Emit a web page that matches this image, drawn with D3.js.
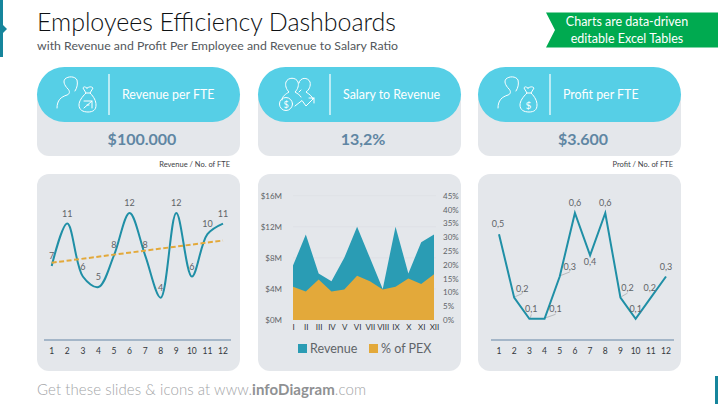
<!DOCTYPE html>
<html>
<head>
<meta charset="utf-8">
<script src="https://cdn.jsdelivr.net/npm/d3@7"></script>
<style>
	html, body { margin: 0; padding: 0; background: #fff; }
	svg { display: block; }
	text { font-family: Lato, "Open Sans", sans-serif; }
</style>
</head>
<body>
<div id="app"></div>
<script>
// chart values
const months = [1, 2, 3, 4, 5, 6, 7, 8, 9, 10, 11, 12];
const revenuePerFte = [7, 11, 6, 5, 8, 12, 8, 4, 12, 6, 10, 11];
const trendEnds = [7.3, 9.4];

const romanMonths = ['I', 'II', 'III', 'IV', 'V', 'VI', 'VII', 'VIII', 'IX', 'X', 'XI', 'XII'];
const revenueM = [7, 11, 6, 5, 8, 12, 8, 4, 12, 6, 10, 11];
const pexPercent = [12, 10.3, 14.7, 10.3, 11, 16, 14, 11, 12, 15, 13, 16.6];
const revenueTicks = [0, 4, 8, 12, 16];
const pexTicks = [0, 5, 10, 15, 20, 25, 30, 35, 40, 45];

const profitPerFte = [0.5, 0.2, 0.1, 0.1, 0.3, 0.6, 0.4, 0.6, 0.2, 0.1, 0.2, 0.3];
// label nudges for the third chart, [dx, dy] from the point
const profitLabelShift = [[-1, -10], [8, -9], [2, -10], [11, -10], [10, -10], [0, -10], [0, 7], [0, -10], [7, -10], [0, -10], [-1, -10], [0, -10]];

const cards = ['Revenue per FTE', 'Salary to Revenue', 'Profit per FTE'];
const cardValues = ['$100.000', '13,2%', '$3.600'];

const WIDTH = 718,
	HEIGHT = 404;

const TEAL = '#1f8fa6',
	AREA_TEAL = '#2a9cb4',
	ORANGE = '#e3a93a',
	CYAN = '#56cfe6',
	PANEL = '#e4e7eb',
	AXIS_BLUE = '#8fa6bd',
	GREY_TEXT = '#5f6468';

const svg = d3.select('#app').append('svg')
	.attr('width', WIDTH)
	.attr('height', HEIGHT);

// slide furniture
svg.append('path').attr('d', 'M0,0H3V25L7,29L3,33V57H0Z').attr('fill', '#16859c');
svg.append('rect').attr('x', 715).attr('y', 376).attr('width', 3).attr('height', 28).attr('fill', '#16859c');

svg.append('text')
	.attr('x', 37).attr('y', 31)
	.attr('font-size', 25).attr('font-weight', 300).attr('fill', '#0e1113')
	.attr('textLength', 359).attr('lengthAdjust', 'spacing')
	.text('Employees Efficiency Dashboards');
svg.append('text')
	.attr('x', 37).attr('y', 50)
	.attr('font-size', 12.3).attr('fill', '#53585c')
	.attr('textLength', 361).attr('lengthAdjust', 'spacing')
	.text('with Revenue and Profit Per Employee and Revenue to Salary Ratio');

// green ribbon
svg.append('path').attr('d', 'M546,12.5H718V47.5H546L555,30Z').attr('fill', '#00aa50');
svg.selectAll('.ribbon')
	.data(['Charts are data-driven', 'editable Excel Tables'])
	.enter().append('text')
		.attr('x', 627).attr('y', (d, i) => 26 + i * 16.5)
		.attr('text-anchor', 'middle')
		.attr('font-size', 12.5).attr('fill', '#fff')
		.text(d => d);

// kpi cards
const cardX = [37, 258, 478];
const iconStroke = g => g.attr('fill', 'none').attr('stroke', '#fff').attr('stroke-width', 1).attr('stroke-linecap', 'round').attr('stroke-linejoin', 'round');

cards.forEach((name, i) => {
	const x = cardX[i];
	const g = svg.append('g').attr('transform', `translate(${x},0)`);
	g.append('rect').attr('y', 85).attr('width', 203).attr('height', 71).attr('rx', 12).attr('fill', PANEL);
	g.append('rect').attr('y', 67).attr('width', 203).attr('height', 55).attr('rx', 27.5).attr('fill', CYAN);
	g.append('line').attr('x1', 72).attr('x2', 72).attr('y1', 74).attr('y2', 115).attr('stroke', '#fff').attr('stroke-width', 1.2);
	g.append('text').attr('x', 85).attr('y', 99)
		.attr('font-size', 12.4).attr('fill', '#fff').text(name);
	g.append('text').attr('x', 105).attr('y', 145).attr('text-anchor', 'middle')
		.attr('font-size', 16).attr('font-weight', 700).attr('fill', '#5f86a3').text(cardValues[i]);

	const ic = g.append('g').call(iconStroke);
	if (i === 1) {
		// two people, coin and rising arrow
		ic.append('path').attr('d', 'M24,100C24,96 28,94 31,92C28,89 27,85 28,82C30,77 38,77 40,82C41,85 40,89 37,92C40,94 42,95 43,97');
		ic.append('path').attr('d', 'M41,83C42,77 50,77 52,82C53,86 51,90 48,92C51,94 54,96 55,99M41,92L43,90');
		ic.append('circle').attr('cx', 28).attr('cy', 104).attr('r', 6.5);
		ic.append('path').attr('d', 'M37,106L44,100.5L48,106L56,98M51,98H56V103');
		g.append('text').attr('x', 28).attr('y', 107.5).attr('text-anchor', 'middle').attr('font-size', 9).attr('fill', '#fff').text('$');
	} else {
		// person with money bag
		ic.append('path').attr('d', 'M20,108C20,100 24,97 30,95C33,94 33,91 31,89C27,85 26,81 28,79C31,76 38,76 40,80C41,84 40,88 38,91');
		ic.append('path').attr('transform', 'translate(5,1)').attr('d', 'M45,87C43,86 42,85 41,87L44,92C40,96 37,100 37,104C37,109 41,111 46,111C51,111 54,109 54,104C54,100 52,96 48,92L51,87C49,85 47,86 45,87ZM44,92H48');
		if (i === 0) {
			ic.append('path').attr('transform', 'translate(5,1)').attr('d', 'M42,100H50V107M42,107L50,100M45,104H47');
		} else {
			g.append('text').attr('x', 50.5).attr('y', 108.5).attr('text-anchor', 'middle').attr('font-size', 10).attr('fill', '#fff').text('$');
		}
	}
});

// small captions between the rows
svg.append('text').attr('x', 230).attr('y', 167).attr('text-anchor', 'end')
	.attr('font-size', 7.5).attr('fill', '#3d4246').text('Revenue / No. of FTE');
svg.append('text').attr('x', 673).attr('y', 167).attr('text-anchor', 'end')
	.attr('font-size', 7.5).attr('fill', '#3d4246').text('Profit / No. of FTE');

// chart panels
cardX.forEach(x => {
	svg.append('rect').attr('x', x).attr('y', 174).attr('width', 203).attr('height', 197).attr('rx', 12).attr('fill', PANEL);
});

function monthAxis (x, lineFrom, lineTo) {
	const g = svg.append('g');
	g.append('line')
		.attr('x1', lineFrom).attr('x2', lineTo).attr('y1', 340).attr('y2', 340)
		.attr('stroke', AXIS_BLUE).attr('stroke-width', 1.6);
	g.selectAll('text')
		.data(months)
		.enter().append('text')
			.attr('x', d => x(d)).attr('y', 354)
			.attr('text-anchor', 'middle')
			.attr('font-size', 8.5).attr('fill', '#33383c')
			.text(d => d);
}

// chart 1: revenue per fte
{
	const x = d3.scalePoint().domain(months).range([51.7, 223]);
	const y = d3.scaleLinear().domain([0, 12]).range([340, 213]);
	monthAxis(x, 44, 231);

	svg.append('path')
		.datum(revenuePerFte)
		.attr('d', d3.line().x((d, i) => x(months[i])).y(d => y(d)).curve(d3.curveCatmullRom.alpha(0.5)))
		.attr('fill', 'none').attr('stroke', TEAL).attr('stroke-width', 2);

	svg.append('path')
		.datum(trendEnds)
		.attr('d', d3.line().x((d, i) => x(i ? 12 : 1)).y(d => y(d)))
		.attr('fill', 'none').attr('stroke', ORANGE).attr('stroke-width', 2).attr('stroke-dasharray', '5 2.5');

	svg.selectAll('.lab1')
		.data(revenuePerFte)
		.enter().append('text')
			.attr('x', (d, i) => x(months[i]))
			.attr('y', (d, i) => y(d) - 7)
			.attr('text-anchor', 'middle')
			.attr('font-size', 9).attr('fill', GREY_TEXT)
			.text(d => d);
}

// chart 2: revenue and % of pex
{
	const x = d3.scalePoint().domain(romanMonths).range([293, 434]);
	const yL = d3.scaleLinear().domain([0, 16]).range([320, 195.7]);
	const yR = d3.scaleLinear().domain([0, 45]).range([320, 195.7]);

	const grid = svg.append('g');
	grid.selectAll('line')
		.data(revenueTicks.slice(1))
		.enter().append('line')
			.attr('x1', 293).attr('x2', 436)
			.attr('y1', d => yL(d)).attr('y2', d => yL(d))
			.attr('stroke', '#dde0e4').attr('stroke-width', 0.8);

	const area = (vals, scale) => d3.area()
		.x((d, i) => x(romanMonths[i]))
		.y0(scale(0))
		.y1(d => scale(d))(vals);

	svg.append('path').attr('d', area(revenueM, yL)).attr('fill', AREA_TEAL);
	svg.append('path').attr('d', area(pexPercent, yR)).attr('fill', ORANGE);

	const left = svg.append('g')
		.attr('transform', 'translate(285,0)')
		.call(d3.axisLeft(yL).tickValues(revenueTicks).tickSize(0).tickFormat(d => `$${d}M`));
	const right = svg.append('g')
		.attr('transform', 'translate(441,0)')
		.call(d3.axisRight(yR).tickValues(pexTicks).tickSize(0).tickPadding(2).tickFormat(d => `${d}%`));
	const bottom = svg.append('g')
		.attr('transform', 'translate(0,320)')
		.call(d3.axisBottom(x).tickSize(0).tickPadding(4));
	[left, right, bottom].forEach(a => {
		a.select('.domain').remove();
		a.selectAll('text').attr('font-family', 'Lato').attr('font-size', 8).attr('fill', GREY_TEXT);
	});
	bottom.selectAll('text').attr('fill', '#33383c').attr('font-size', 8);

	// legend
	const legend = svg.append('g');
	legend.append('rect').attr('x', 298).attr('y', 344).attr('width', 9).attr('height', 9).attr('fill', AREA_TEAL);
	legend.append('text').attr('x', 310).attr('y', 353).attr('font-size', 12.5).attr('fill', GREY_TEXT).text('Revenue');
	legend.append('rect').attr('x', 369).attr('y', 344).attr('width', 9).attr('height', 9).attr('fill', ORANGE);
	legend.append('text').attr('x', 381).attr('y', 353).attr('font-size', 12.5).attr('fill', GREY_TEXT).text('% of PEX');
}

// chart 3: profit per fte
{
	const x = d3.scalePoint().domain(months).range([499, 666]);
	const y = d3.scaleLinear().domain([0, 0.6]).range([340, 213]);
	monthAxis(x, 491, 674);

	// leader lines for the labels pushed off their point
	svg.selectAll('.leader')
		.data(profitPerFte.map((d, i) => ({ d, i })).filter(p => profitLabelShift[p.i][0] > 1))
		.enter().append('line')
			.attr('x1', p => x(months[p.i]) + 1)
			.attr('y1', p => y(p.d) - 1)
			.attr('x2', p => x(months[p.i]) + profitLabelShift[p.i][0])
			.attr('y2', p => y(p.d) + profitLabelShift[p.i][1] * 0.45)
			.attr('stroke', '#b5b9bd').attr('stroke-width', 1);

	svg.append('path')
		.datum(profitPerFte)
		.attr('d', d3.line().x((d, i) => x(months[i])).y(d => y(d)))
		.attr('fill', 'none').attr('stroke', TEAL).attr('stroke-width', 2);

	svg.selectAll('.lab3')
		.data(profitPerFte)
		.enter().append('text')
			.attr('x', (d, i) => x(months[i]) + profitLabelShift[i][0])
			.attr('y', (d, i) => y(d) + profitLabelShift[i][1] + 3)
			.attr('text-anchor', 'middle')
			.attr('font-size', 9).attr('fill', GREY_TEXT)
			.text(d => String(d).replace('.', ','));
}

// footer
const foot = svg.append('text')
	.attr('x', 37).attr('y', 395)
	.attr('font-size', 15).attr('font-weight', 300).attr('fill', '#a3a5a7')
	.attr('textLength', 329).attr('lengthAdjust', 'spacing');
foot.append('tspan').text('Get these slides & icons at www.');
foot.append('tspan').attr('font-weight', 700).attr('fill', '#8f9193').text('infoDiagram');
foot.append('tspan').text('.com');
</script>
</body>
</html>
